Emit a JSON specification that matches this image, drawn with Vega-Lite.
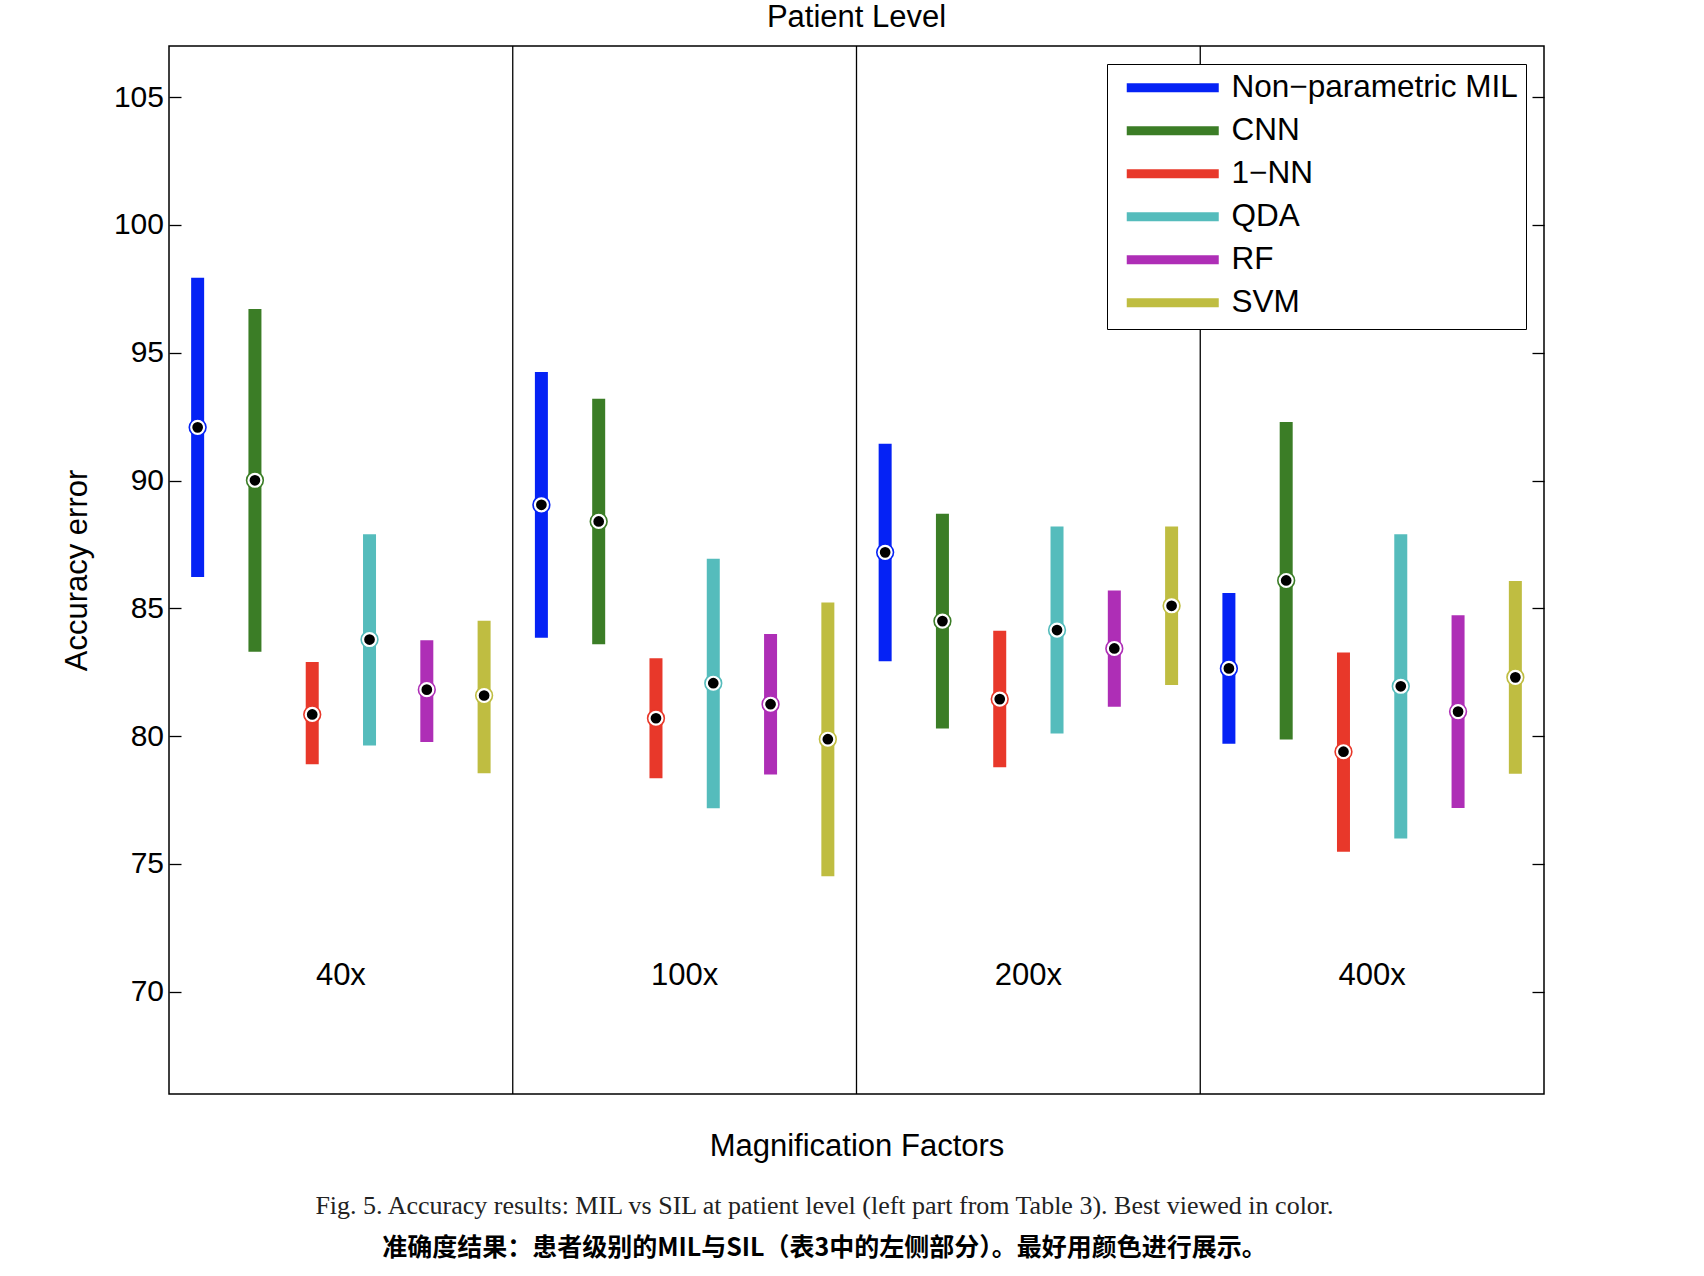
{
  "$schema": "https://vega.github.io/schema/vega-lite/v6.json",
  "background": "white",
  "padding": {"left": 60, "top": 1, "right": 5, "bottom": 5},
  "autosize": {"type": "pad"},
  "config": {
    "view": {"stroke": "black", "strokeWidth": 1.5},
    "concat": {"spacing": 0}
  },
  "datasets": {
    "errs": [
      {"mag": "40x", "method": "Non−parametric MIL", "lo": 86.23, "mean": 92.08, "hi": 97.93},
      {"mag": "40x", "method": "CNN", "lo": 83.3, "mean": 90.01, "hi": 96.71},
      {"mag": "40x", "method": "1−NN", "lo": 78.9, "mean": 80.85, "hi": 82.9},
      {"mag": "40x", "method": "QDA", "lo": 79.63, "mean": 83.78, "hi": 87.9},
      {"mag": "40x", "method": "RF", "lo": 79.77, "mean": 81.82, "hi": 83.75},
      {"mag": "40x", "method": "SVM", "lo": 78.55, "mean": 81.59, "hi": 84.51},
      {"mag": "100x", "method": "Non−parametric MIL", "lo": 83.85, "mean": 89.05, "hi": 94.25},
      {"mag": "100x", "method": "CNN", "lo": 83.6, "mean": 88.4, "hi": 93.2},
      {"mag": "100x", "method": "1−NN", "lo": 78.35, "mean": 80.7, "hi": 83.05},
      {"mag": "100x", "method": "QDA", "lo": 77.18, "mean": 82.07, "hi": 86.94},
      {"mag": "100x", "method": "RF", "lo": 78.5, "mean": 81.25, "hi": 84.0},
      {"mag": "100x", "method": "SVM", "lo": 74.52, "mean": 79.88, "hi": 85.23},
      {"mag": "200x", "method": "Non−parametric MIL", "lo": 82.93, "mean": 87.19, "hi": 91.44},
      {"mag": "200x", "method": "CNN", "lo": 80.3, "mean": 84.5, "hi": 88.7},
      {"mag": "200x", "method": "1−NN", "lo": 78.78, "mean": 81.45, "hi": 84.12},
      {"mag": "200x", "method": "QDA", "lo": 80.1, "mean": 84.15, "hi": 88.2},
      {"mag": "200x", "method": "RF", "lo": 81.15, "mean": 83.43, "hi": 85.7},
      {"mag": "200x", "method": "SVM", "lo": 82.0, "mean": 85.1, "hi": 88.2},
      {"mag": "400x", "method": "Non−parametric MIL", "lo": 79.7, "mean": 82.65, "hi": 85.6},
      {"mag": "400x", "method": "CNN", "lo": 79.87, "mean": 86.09, "hi": 92.29},
      {"mag": "400x", "method": "1−NN", "lo": 75.48, "mean": 79.39, "hi": 83.27},
      {"mag": "400x", "method": "QDA", "lo": 76.0, "mean": 81.95, "hi": 87.9},
      {"mag": "400x", "method": "RF", "lo": 77.19, "mean": 80.96, "hi": 84.73},
      {"mag": "400x", "method": "SVM", "lo": 78.53, "mean": 82.3, "hi": 86.07}
    ],
    "panels": [
      {"mag": "40x"}, {"mag": "100x"}, {"mag": "200x"}, {"mag": "400x"}
    ]
  },
  "title": {
    "text": "Fig. 5. Accuracy results: MIL vs SIL at patient level (left part from Table 3). Best viewed in color.",
    "subtitle": "准确度结果：患者级别的MIL与SIL（表3中的左侧部分）。最好用颜色进行展示。",
    "orient": "bottom",
    "anchor": "middle",
    "frame": "group",
    "dx": -32,
    "font": "Liberation Serif",
    "fontSize": 26,
    "fontWeight": "normal",
    "color": "#222222",
    "subtitleFont": "Noto Sans CJK SC",
    "subtitleFontSize": 25,
    "subtitleFontWeight": "bold",
    "subtitleColor": "black",
    "subtitlePadding": 17,
    "offset": 31
  },
  "vconcat": [
    {
      "width": 1375,
      "height": 1048,
      "title": {"text": "Patient Level", "font": "Liberation Sans", "fontSize": 31, "fontWeight": "normal", "color": "black", "anchor": "middle", "offset": 11},
      "data": {"name": "errs"},
      "layer": [
        {
          "data": {"name": "panels"},
          "transform": [{"filter": "datum.mag !== '40x'"}],
          "mark": {"type": "rule", "color": "black", "strokeWidth": 1.3},
          "encoding": {
            "x": {
              "field": "mag", "type": "nominal", "bandPosition": 0,
              "scale": {"domain": ["40x", "100x", "200x", "400x"], "paddingInner": 0, "paddingOuter": 0},
              "axis": {"title": "Magnification Factors", "labels": false, "ticks": false, "domain": false, "grid": false, "titleFont": "Liberation Sans", "titleFontSize": 31, "titleFontWeight": "normal", "titleColor": "black", "titlePadding": 37}
            }
          }
        },
        {
          "data": {"name": "panels"},
          "mark": {"type": "text", "font": "Liberation Sans", "fontSize": 31, "color": "black", "align": "center", "baseline": "middle"},
          "encoding": {
            "x": {"field": "mag", "type": "nominal", "scale": {"domain": ["40x", "100x", "200x", "400x"], "paddingInner": 0, "paddingOuter": 0},
              "axis": {"title": "Magnification Factors", "labels": false, "ticks": false, "domain": false, "grid": false, "titleFont": "Liberation Sans", "titleFontSize": 31, "titleFontWeight": "normal", "titleColor": "black", "titlePadding": 37}},
            "y": {"datum": 70.6, "type": "quantitative", "axis": null},
            "text": {"field": "mag"}
          }
        },
        {
          "mark": {"type": "rule", "strokeWidth": 13, "strokeCap": "butt", "opacity": 1},
          "encoding": {
            "x": {
              "field": "mag", "type": "nominal",
              "scale": {"domain": ["40x", "100x", "200x", "400x"], "paddingInner": 0, "paddingOuter": 0},
              "axis": {"title": "Magnification Factors", "labels": false, "ticks": false, "domain": false, "grid": false, "titleFont": "Liberation Sans", "titleFontSize": 31, "titleFontWeight": "normal", "titleColor": "black", "titlePadding": 37}
            },
            "xOffset": {"field": "method", "type": "nominal", "scale": {"domain": ["Non−parametric MIL", "CNN", "1−NN", "QDA", "RF", "SVM"], "paddingInner": 0, "paddingOuter": 0}},
            "y": {
              "field": "lo", "type": "quantitative",
              "scale": {"domain": [66, 107], "nice": false, "zero": false},
              "axis": {"orient": "left", "values": [70, 75, 80, 85, 90, 95, 100, 105], "tickSize": -12, "tickColor": "black", "tickWidth": 1.3, "labelFont": "Liberation Sans", "labelFontSize": 30, "labelColor": "black", "labelPadding": 17.5, "domain": false, "grid": false, "title": "Accuracy error", "titleFont": "Liberation Sans", "titleFontSize": 31, "titleFontWeight": "normal", "titleColor": "black", "titlePadding": 20}
            },
            "y2": {"field": "hi"},
            "color": {
              "field": "method", "type": "nominal",
              "scale": {"domain": ["Non−parametric MIL", "CNN", "1−NN", "QDA", "RF", "SVM"], "range": ["#0522F5", "#3B7D26", "#E8382A", "#55BCBC", "#AE2EB6", "#BFBD41"]},
              "legend": {"orient": "top-right", "offset": 18, "title": null, "symbolType": "M-4.6,0H4.6", "symbolSize": 400, "symbolStrokeWidth": 9, "symbolOffset": 42, "labelFont": "Liberation Sans", "labelFontSize": 31.5, "labelColor": "black", "labelOffset": 43, "labelLimit": 600, "rowPadding": 6, "padding": 8, "strokeColor": "black", "fillColor": "white"}
            }
          }
        },
        {
          "mark": {"type": "circle", "fill": "white", "strokeWidth": 1.6, "size": 280, "opacity": 1},
          "encoding": {
            "x": {"field": "mag", "type": "nominal", "scale": {"domain": ["40x", "100x", "200x", "400x"], "paddingInner": 0, "paddingOuter": 0},
              "axis": {"title": "Magnification Factors", "labels": false, "ticks": false, "domain": false, "grid": false, "titleFont": "Liberation Sans", "titleFontSize": 31, "titleFontWeight": "normal", "titleColor": "black", "titlePadding": 37}},
            "xOffset": {"field": "method", "type": "nominal", "scale": {"domain": ["Non−parametric MIL", "CNN", "1−NN", "QDA", "RF", "SVM"], "paddingInner": 0, "paddingOuter": 0}},
            "y": {
              "field": "mean", "type": "quantitative",
              "axis": {"orient": "right", "values": [70, 75, 80, 85, 90, 95, 100, 105], "tickSize": -12, "tickColor": "black", "tickWidth": 1.3, "labels": false, "domain": false, "grid": false, "title": null}
            },
            "stroke": {
              "field": "method", "type": "nominal",
              "scale": {"domain": ["Non−parametric MIL", "CNN", "1−NN", "QDA", "RF", "SVM"], "range": ["#0522F5", "#3B7D26", "#E8382A", "#55BCBC", "#AE2EB6", "#BFBD41"]},
              "legend": null
            }
          }
        },
        {
          "mark": {"type": "circle", "color": "black", "size": 115, "opacity": 1},
          "encoding": {
            "x": {"field": "mag", "type": "nominal", "scale": {"domain": ["40x", "100x", "200x", "400x"], "paddingInner": 0, "paddingOuter": 0},
              "axis": {"title": "Magnification Factors", "labels": false, "ticks": false, "domain": false, "grid": false, "titleFont": "Liberation Sans", "titleFontSize": 31, "titleFontWeight": "normal", "titleColor": "black", "titlePadding": 37}},
            "xOffset": {"field": "method", "type": "nominal", "scale": {"domain": ["Non−parametric MIL", "CNN", "1−NN", "QDA", "RF", "SVM"], "paddingInner": 0, "paddingOuter": 0}},
            "y": {"field": "mean", "type": "quantitative", "axis": null}
          }
        }
      ]
    }
  ]
}
